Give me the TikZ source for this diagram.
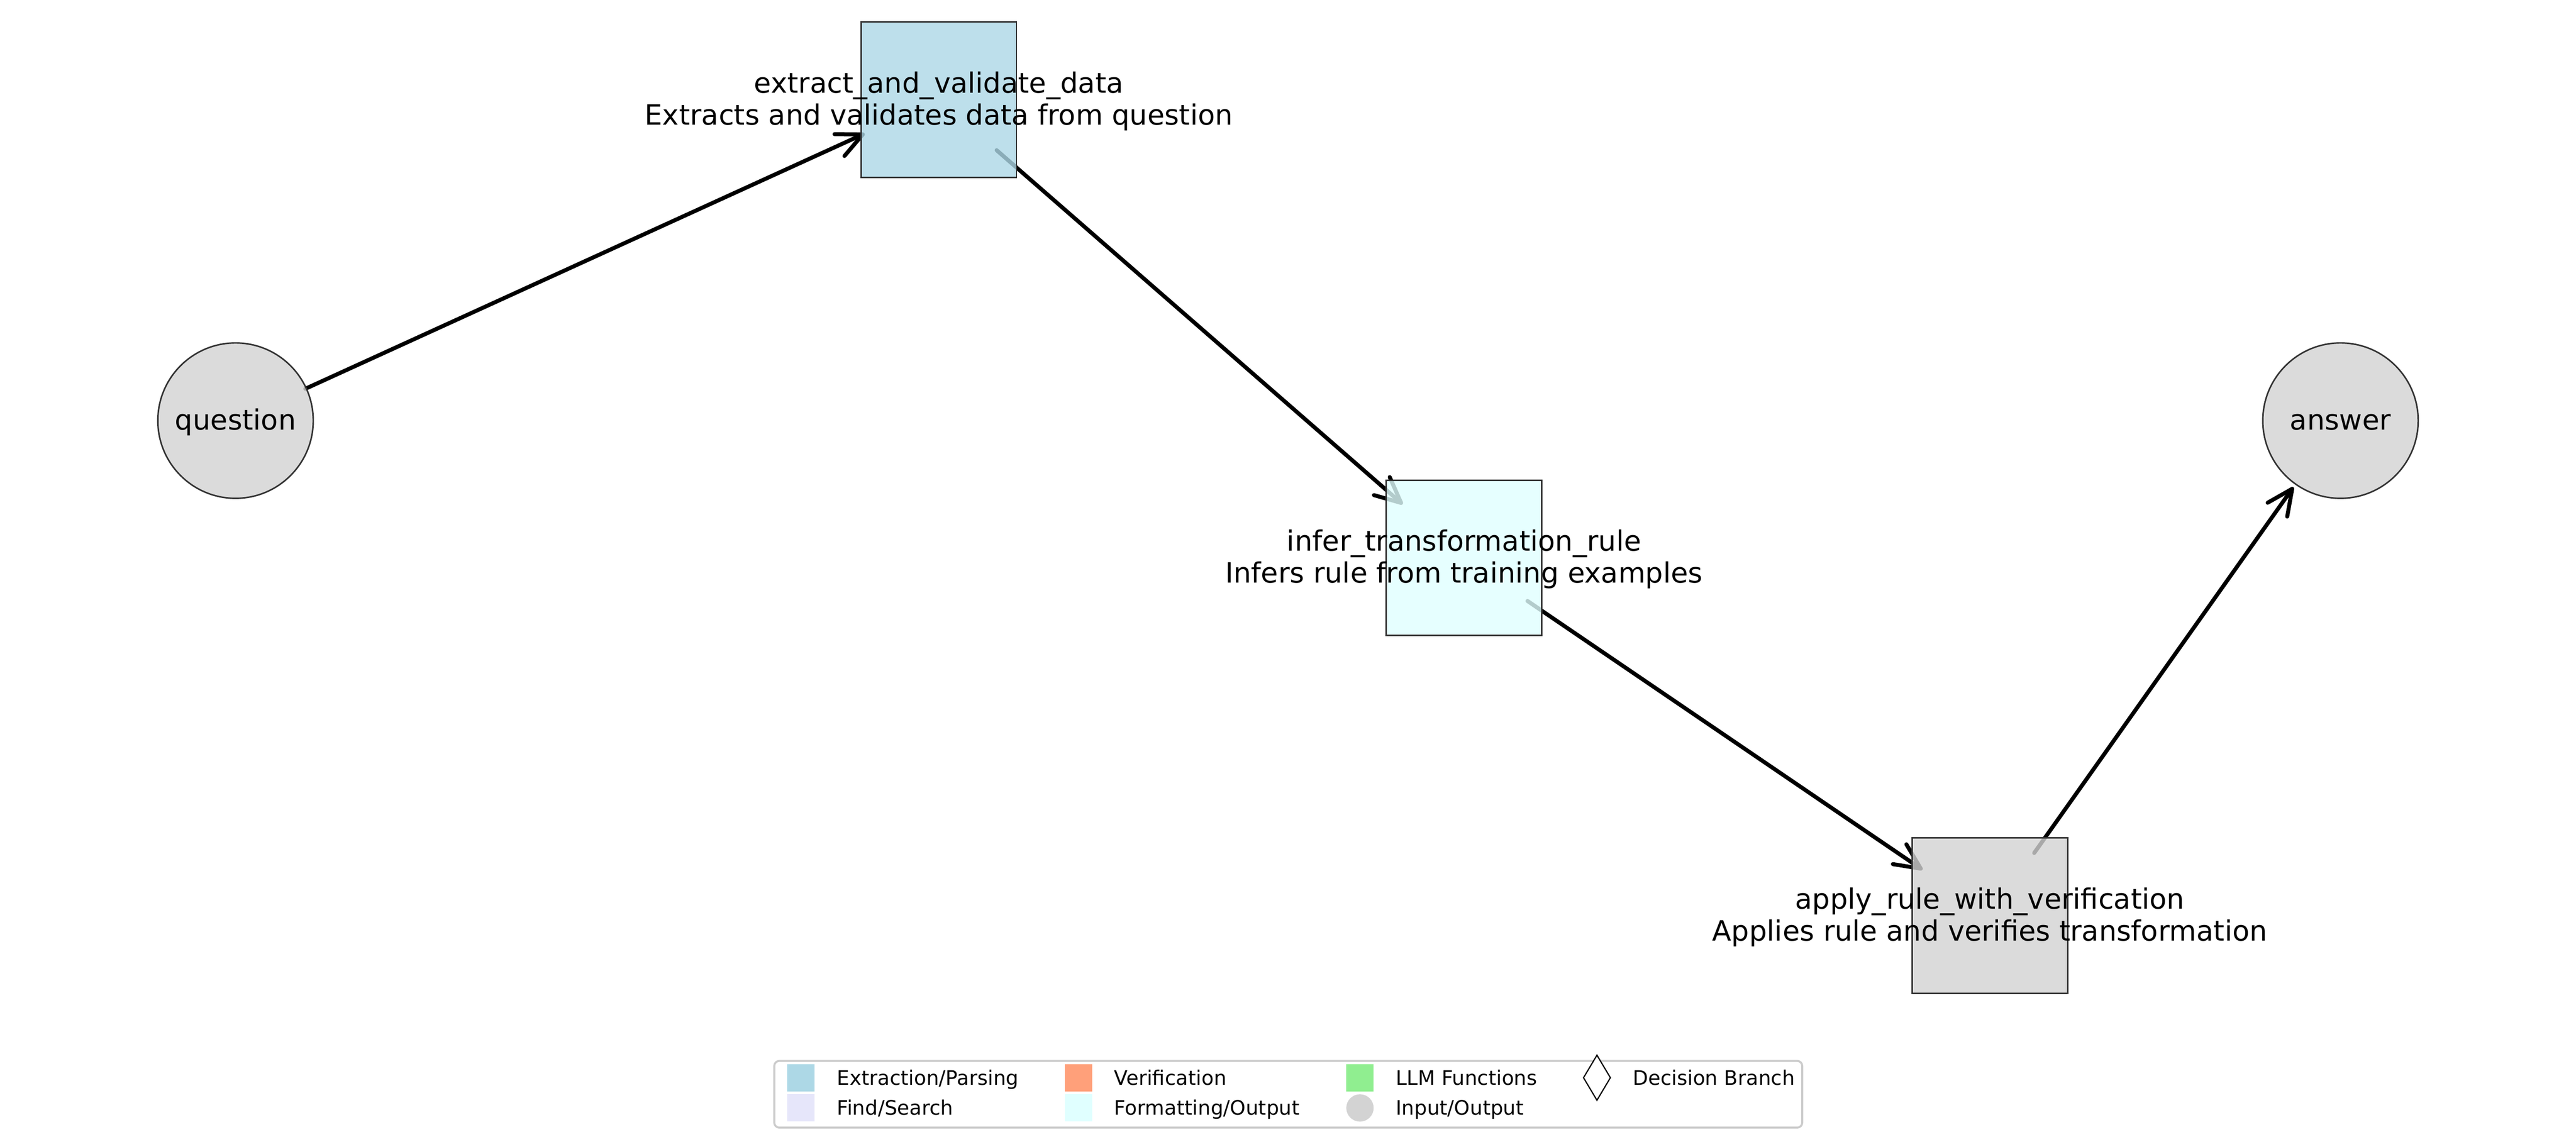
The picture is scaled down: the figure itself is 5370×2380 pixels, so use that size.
\documentclass[tikz,border=0pt]{standalone}
\usepackage{fontspec}
\setmainfont{DejaVu Sans}
\usetikzlibrary{arrows.meta,backgrounds}
\definecolor{cExtract}{HTML}{ADD8E6}
\definecolor{cVerify}{HTML}{FFA07A}
\definecolor{cLLM}{HTML}{90EE90}
\definecolor{cFind}{HTML}{E6E6FA}
\definecolor{cFormat}{HTML}{E0FFFF}
\definecolor{cIO}{HTML}{D3D3D3}
\definecolor{cEdge}{HTML}{333333}
\definecolor{cFrame}{HTML}{CCCCCC}
\begin{document}
\begin{tikzpicture}[x=0.24pt,y=-0.24pt,
  boxnode/.style={rectangle, draw=cEdge, line width=0.75pt, minimum width=77.76pt, minimum height=77.76pt, fill opacity=0.8, inner sep=0pt},
  boxtext/.style={align=center, inner sep=0pt, yshift=-0.7pt, font=\fontsize{14}{16}\selectfont},
  ionode/.style={circle, draw=cEdge, line width=0.75pt, fill=cIO, fill opacity=0.8, minimum size=77.76pt, inner sep=0pt},
  flow/.style={line width=2pt, line cap=round, line join=round, shorten <=38.4pt, shorten >=40.8pt, -{Straight Barb[length=12.8pt,width=12pt,round]}},
  legmark/.style={rectangle, minimum size=13.68pt, inner sep=0pt},
  legtext/.style={anchor=base west, inner sep=0pt, font=\fontsize{10}{12}\selectfont},
  legframe/.style={draw=cFrame, line width=1pt, fill=white, fill opacity=0.8, rounded corners=2.5pt, minimum width=514.3pt, minimum height=33.36pt, inner sep=0pt}
]
\useasboundingbox (0,0) rectangle (5370,2380);

% nodes
\node[ionode] (question) at (491,877) {};
\node[ionode] (answer) at (4879,877) {};
\node[boxnode, fill=cExtract] (extract) at (1957,208) {};
\node[boxnode, fill=cFormat] (infer) at (3052,1163) {};
\node[boxnode, fill=cIO] (apply) at (4148,1909) {};
\node[boxtext] (questionlabel) at (question.center) {question};
\node[boxtext] (answerlabel) at (answer.center) {answer};
\node[boxtext] (extractlabel) at (extract.center) {extract\_and\_validate\_data\\Extracts and validates data from question};
\node[boxtext] (inferlabel) at (infer.center) {infer\_transformation\_rule\\Infers rule from training examples};
\node[boxtext] (applylabel) at (apply.center) {apply\_rule\_with\_verification\\Applies rule and verifies transformation};

% connectors (under the boxes)
\begin{pgfonlayer}{background}
\fill[white] (0,0) rectangle (5370,2380);
\draw[flow] (question.center) -- (extract.center);
\draw[flow] (extract.center) -- (infer.center);
\draw[flow] (infer.center) -- (apply.center);
\draw[flow] (apply.center) -- (answer.center);
\end{pgfonlayer}

% legend
\node[legframe] (legend) at (2685.5,2281.5) {};
\node[legmark, fill=cExtract] (mk1) at (1670,2247) {};
\node[legmark, fill=cFind] (mk2) at (1670,2310) {};
\node[legmark, fill=cVerify] (mk3) at (2248,2247) {};
\node[legmark, fill=cFormat] (mk4) at (2248,2310) {};
\node[legmark, fill=cLLM] (mk5) at (2835,2247) {};
\node[circle, fill=cIO, minimum size=13.68pt, inner sep=0pt] (mk6) at (2835,2310) {};
\draw[line width=0.6pt, fill=white] (3329,2200) -- (3357,2247) -- (3329,2294) -- (3301,2247) -- cycle;
\node[legtext] (lt1) at (1744,2262) {Extraction/Parsing};
\node[legtext] (lt2) at (1744,2325) {Find/Search};
\node[legtext] (lt3) at (2322,2262) {Verification};
\node[legtext] (lt4) at (2322,2325) {Formatting/Output};
\node[legtext] (lt5) at (2909,2262) {LLM Functions};
\node[legtext] (lt6) at (2909,2325) {Input/Output};
\node[legtext] (lt7) at (3403,2262) {Decision Branch};
\end{tikzpicture}
\end{document}
